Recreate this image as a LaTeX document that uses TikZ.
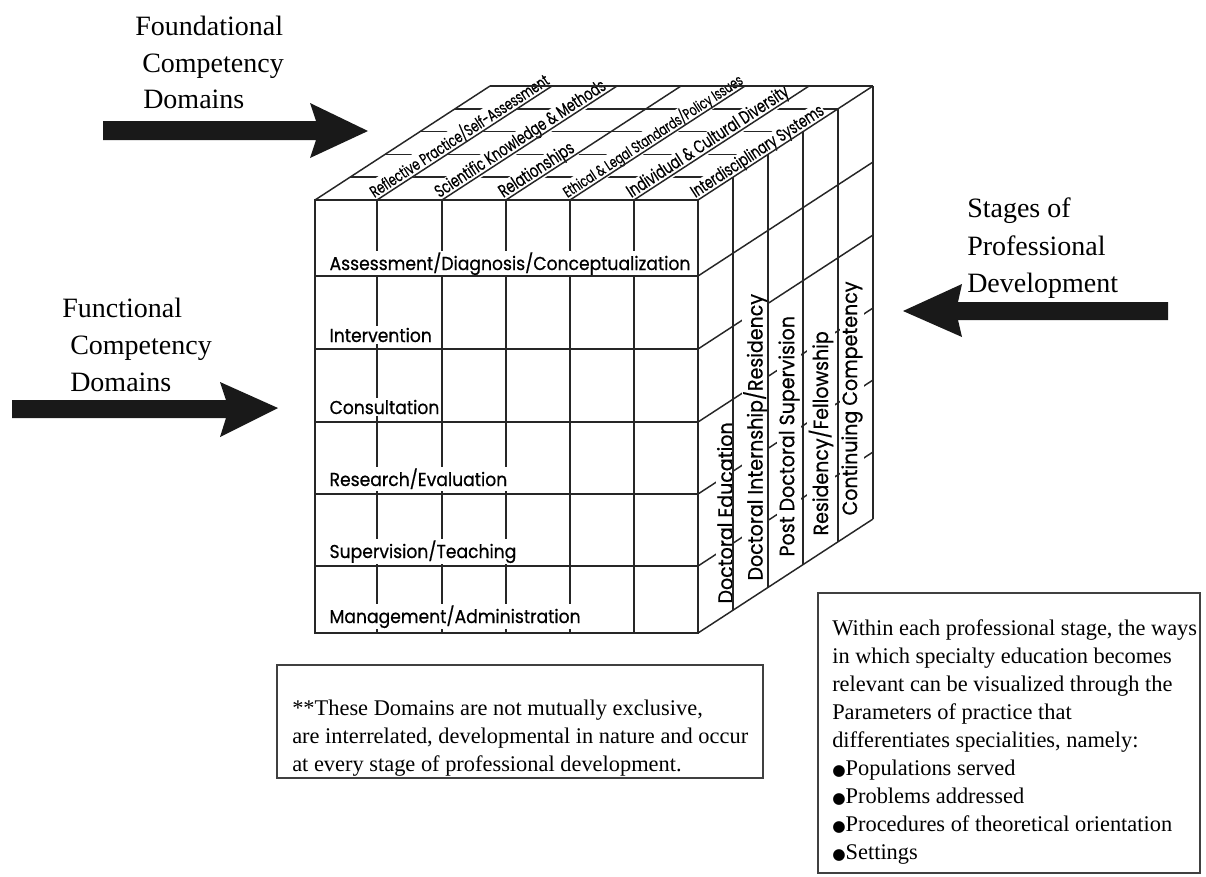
\documentclass[tikz,border=0pt]{standalone}
\usepackage{fontspec}
\usepackage{graphicx}
\setmainfont{Liberation Serif}
\newfontfamily\cubefont[FakeStretch=0.92,FakeBold=0.6]{Poppins}
\newfontfamily\topfont[FakeStretch=0.72,FakeBold=0.4]{Poppins}
\newfontfamily\symfont{DejaVu Sans}
\newcommand{\bul}{{\symfont\fontsize{11.5}{21}\selectfont ●}}
\tikzset{
  cubeline/.style={line width=1.1pt, draw=black!85},
  frontlab/.style={font=\cubefont\fontsize{14}{16}\selectfont, fill=white, inner sep=1pt, anchor=base west},
  sidelab/.style={font=\cubefont\fontsize{15.5}{17}\selectfont, fill=white, inner sep=1pt, rotate=90, anchor=west},
  toplab/.style={fill=white, inner sep=0.6pt, rotate=33.1, anchor=base west},
  captext/.style={font=\fontsize{21}{27}\selectfont, anchor=base west, inner sep=0},
  bigarrow/.style={fill=black!90, draw=none},
  notebox/.style={draw=black!75, line width=1.3pt},
  boxtext/.style={font=\fontsize{16.8}{21}\selectfont, align=left, anchor=north west, inner sep=0},
}
\begin{document}
\begin{tikzpicture}[x=0.75pt, y=-0.75pt]
\useasboundingbox[fill=white] (0,0) rectangle (1206,876);

% ---------- captions ----------
\node[captext] (fo1) at (135,35) {Foundational};
\node[captext] (fo2) at (142,72) {Competency};
\node[captext] (fo3) at (143,108) {Domains};
\node[captext] (fu1) at (62,317) {Functional};
\node[captext] (fu2) at (70,354) {Competency};
\node[captext] (fu3) at (70,391) {Domains};
\node[captext] (st1) at (967,217) {Stages of};
\node[captext] (st2) at (967,255) {Professional};
\node[captext] (st3) at (967,292) {Development};

% ---------- block arrows ----------
\fill[bigarrow] (103,121) -- (316,121) -- (310,103) -- (368,131) -- (310,158) -- (316,140) -- (103,140) -- cycle;
\fill[bigarrow] (12,400) -- (226,400) -- (220,382) -- (278,408) -- (220,437) -- (226,418) -- (12,418) -- cycle;
\fill[bigarrow] (1168,302) -- (958,302) -- (962,284) -- (903,311) -- (962,337) -- (958,320) -- (1168,320) -- cycle;

% ---------- top face ----------
\foreach \k in {1,...,4}
  \draw[cubeline] ({315+35*\k},{200-22.8*\k}) -- ({698+35*\k},{200-22.8*\k});
\node[toplab] (t1) at (373.6,198.6) {\resizebox{157.5pt}{!}{\topfont Reflective Practice/Self-Assessment}};
\node[toplab] (t2) at (438.6,198.6) {\resizebox{150pt}{!}{\topfont Scientific Knowledge \& Methods}};
\node[toplab] (t3) at (502.6,198.6) {\resizebox{64.5pt}{!}{\topfont Relationships}};
\node[toplab] (t4) at (566.6,198.6) {\resizebox{158pt}{!}{\topfont Ethical \& Legal Standards/Policy Issues}};
\node[toplab] (t5) at (630.6,198.6) {\resizebox{142pt}{!}{\topfont Individual \& Cultural Diversity}};
\node[toplab] (t6) at (694.6,198.6) {\resizebox{116pt}{!}{\topfont Interdisciplinary Systems}};
\foreach \x in {315,377,442,506,570,634,698}
  \draw[cubeline] (\x,200) -- ++(175,-114);
\draw[cubeline] (490,86) -- (873,86);

% ---------- front face ----------
\foreach \x in {377,442,506,570,634}
  \draw[cubeline] (\x,200) -- (\x,633);
\node[frontlab] (f1) at (328,270) {Assessment/Diagnosis/Conceptualization};
\node[frontlab] (f2) at (328,342) {Intervention};
\node[frontlab] (f3) at (328,414) {Consultation};
\node[frontlab] (f4) at (328,486) {Research/Evaluation};
\node[frontlab] (f5) at (328,558) {Supervision/Teaching};
\node[frontlab] (f6) at (328,623) {Management/Administration};
\foreach \y in {276,349,422,494,566}
  \draw[cubeline] (315,\y) -- (698,\y);
\draw[cubeline] (315,200) rectangle (698,633);

% ---------- right face ----------
\foreach \y in {276,349,422,494,566}
  \draw[cubeline] (698,\y) -- ++(175,-114);
\node[sidelab] (s1) at (725,605) {Doctoral Education};
\node[sidelab] (s2) at (755.5,582) {Doctoral Internship/Residency};
\node[sidelab] (s3) at (789,558) {Post Doctoral Supervision};
\node[sidelab] (s4) at (821,537) {Residency/Fellowship};
\node[sidelab] (s5) at (852,517) {Continuing Competency};
\foreach \k in {1,...,5}
  \draw[cubeline] ({698+35*\k},{200-22.8*\k}) -- ++(0,433);
\draw[cubeline] (698,633) -- ++(175,-114);

% ---------- note boxes ----------
\draw[notebox] (277,665) rectangle (763,778);
\node[boxtext] (note) at (292,700) {**These Domains are not mutually exclusive,\\
are interrelated, developmental in nature and occur\\
at every stage of professional development.};

\draw[notebox] (818,593) rectangle (1200,873);
\node[boxtext] (params) at (832,619) {Within each professional stage, the ways\\
in which specialty education becomes\\
relevant can be visualized through the\\
Parameters of practice that\\
differentiates specialities, namely:\\
\bul Populations served\\
\bul Problems addressed\\
\bul Procedures of theoretical orientation\\
\bul Settings};
\end{tikzpicture}
\end{document}
